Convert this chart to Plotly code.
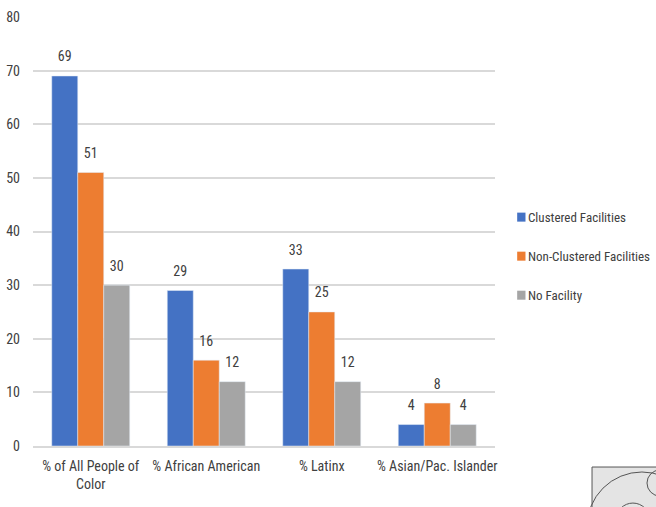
import plotly.graph_objects as go

categories = ["% of All People of<br>Color", "% African American", "% Latinx", "% Asian/Pac. Islander"]
clustered = [69, 29, 33, 4]
non_clustered = [51, 16, 25, 8]
no_facility = [30, 12, 12, 4]
series_names = ["Clustered Facilities", "Non-Clustered Facilities", "No Facility"]
colors = ["#4472C4", "#ED7D31", "#A5A5A5"]
y_ticks = [0, 10, 20, 30, 40, 50, 60, 70, 80]

FONT = "Liberation Sans Narrow, Arial Narrow, Roboto Condensed, sans-serif"

fig = go.Figure()
all_series = [clustered, non_clustered, no_facility]
for i, (name, vals) in enumerate(zip(series_names, all_series)):
    fig.add_trace(go.Bar(
        x=categories, y=vals, name=name, marker_color=colors[i],
        showlegend=False, hoverinfo="x+y+name",
    ))
# data labels, grouped like the bars and lifted a little above them
for i, (name, vals) in enumerate(zip(series_names, all_series)):
    fig.add_trace(go.Scatter(
        x=categories, y=vals, mode="markers+text",
        marker=dict(size=16, color="rgba(0,0,0,0)"),
        text=[str(v) for v in vals], textposition="top center",
        textfont=dict(size=14, color="#404040", family=FONT),
        cliponaxis=False, showlegend=False, hoverinfo="skip",
    ))

# manual legend (square swatch + label), Excel-style
legend_y = [0.533, 0.442, 0.351]
for i, name in enumerate(series_names):
    fig.add_shape(type="rect", xref="paper", yref="paper",
                  x0=1.048, x1=1.066, y0=legend_y[i] - 0.01, y1=legend_y[i] + 0.011,
                  line=dict(width=0), fillcolor=colors[i])
    fig.add_annotation(xref="paper", yref="paper", x=1.068, y=legend_y[i],
                       xanchor="left", yanchor="middle", text=name, showarrow=False,
                       font=dict(size=13, color="#404040", family=FONT))

fig.update_layout(
    width=656, height=507,
    margin=dict(l=33, r=161, t=17, b=61, autoexpand=False),
    paper_bgcolor="white", plot_bgcolor="white",
    barmode="group", bargap=0.325, bargroupgap=0,
    scattermode="group", scattergap=0.325,
    font=dict(family=FONT, size=14, color="#595959"),
    showlegend=False,
    xaxis=dict(showgrid=False, showline=True, linecolor="#D9D9D9", linewidth=1.5,
               ticks="", tickangle=0, automargin=False, ticklabelstandoff=6,
               tickfont=dict(size=14, color="#404040"), fixedrange=True),
    yaxis=dict(range=[0, 80], tickvals=y_ticks, showgrid=True, gridcolor="#D9D9D9",
               gridwidth=1.5, zeroline=False, ticks="", ticklabelstandoff=12,
               automargin=False,
               tickfont=dict(size=14, color="#404040"), fixedrange=True),
)

# decorative logo at bottom-right corner
fig.add_shape(type="rect", xref="paper", yref="paper",
              x0=1.21, x1=1.36, y0=-0.16, y1=-0.049,
              line=dict(color="#555555", width=1), fillcolor="#E4E4E4")
fig.add_shape(type="circle", xref="paper", yref="paper",
              x0=1.199, x1=1.437, y0=-0.317, y1=-0.0606,
              line=dict(color="#555555", width=1))
fig.add_shape(type="circle", xref="paper", yref="paper",
              x0=1.329, x1=1.385, y0=-0.1166, y1=-0.056,
              line=dict(color="#555555", width=1))
fig.add_shape(type="circle", xref="paper", yref="paper",
              x0=1.262, x1=1.335, y0=-0.212, y1=-0.133,
              line=dict(color="#555555", width=1))

fig.write_html("out.html")
